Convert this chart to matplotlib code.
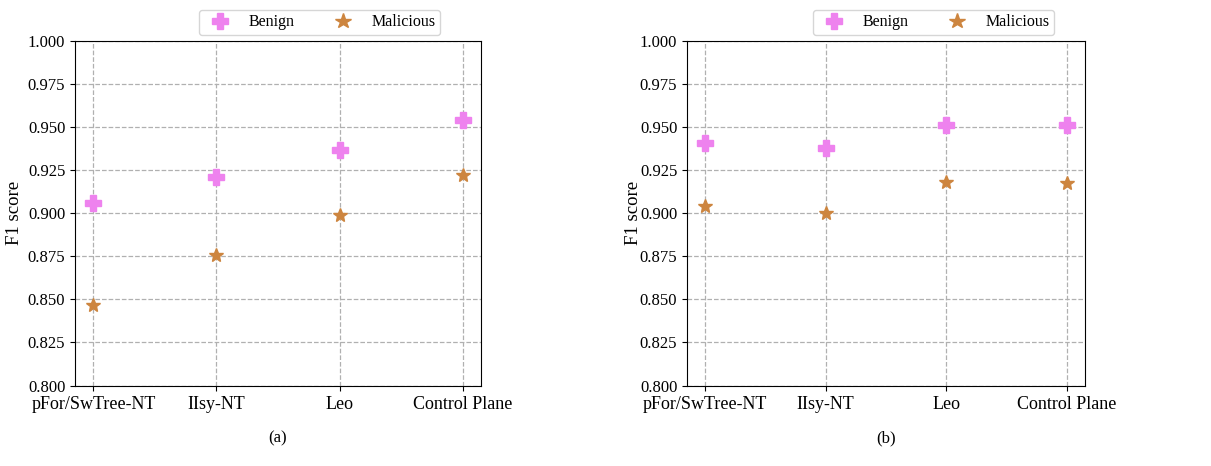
import numpy as np
import matplotlib
matplotlib.use("Agg")
import matplotlib.pyplot as plt

plt.rcParams['font.family'] = ['Liberation Serif', 'DejaVu Serif']
plt.rcParams['mathtext.fontset'] = 'stix'

categories = ["pFor/SwTree-NT", "IIsy-NT", "Leo", "Control Plane"]

# (a)
benign_a = [0.906, 0.921, 0.937, 0.954]
malicious_a = [0.847, 0.876, 0.899, 0.922]
# (b)
benign_b = [0.941, 0.938, 0.951, 0.951]
malicious_b = [0.904, 0.900, 0.918, 0.9175]

captions = ["(a)", "(b)"]

fig = plt.figure(figsize=(12.11, 4.66), dpi=100)
ax_a = fig.add_axes([75 / 1211, 1 - 385.5 / 466, 406 / 1211, 344.5 / 466])
ax_b = fig.add_axes([687 / 1211, 1 - 385.5 / 466, 398 / 1211, 344.5 / 466])


def draw(ax, benign, malicious, caption, legend_x, label_x):
	x = np.arange(len(categories))
	ax.plot(x, benign, linestyle="none", marker="P", markersize=11,
			color="violet", label="Benign", zorder=3)
	ax.plot(x, malicious, linestyle="none", marker="*", markersize=10.5,
			color="peru", label="Malicious", zorder=3)
	ax.set_xlim(-0.15, 3.15)
	ax.set_ylim(0.8, 1.0)
	ax.set_yticks(np.arange(0.8, 1.0001, 0.025))
	ax.yaxis.set_major_formatter(matplotlib.ticker.FormatStrFormatter("%.3f"))
	ax.set_xticks(x)
	ax.set_xticklabels(categories, fontsize=13)
	ax.tick_params(axis="y", labelsize=12)
	ax.tick_params(axis="x", pad=4)
	ax.set_ylabel("F1 score", fontsize=13.5)
	ax.yaxis.set_label_coords(label_x, 0.5)
	ax.grid(True, linestyle="--", color="#b0b0b0", linewidth=0.9)
	ax.set_axisbelow(True)
	ax.legend(loc="lower center", bbox_to_anchor=(legend_x, 1.017), ncol=2,
			  fontsize=11.5, frameon=True, columnspacing=2.0, handletextpad=0.8,
			  borderaxespad=0.0, borderpad=0.3, markerscale=1.1)
	ax.text(0.5, -0.13, caption, transform=ax.transAxes, ha="center",
			va="top", fontsize=12)


draw(ax_a, benign_a, malicious_a, captions[0], 0.603, -0.128)
draw(ax_b, benign_b, malicious_b, captions[1], 0.62, -0.113)

fig.savefig("out.png", dpi=100)
